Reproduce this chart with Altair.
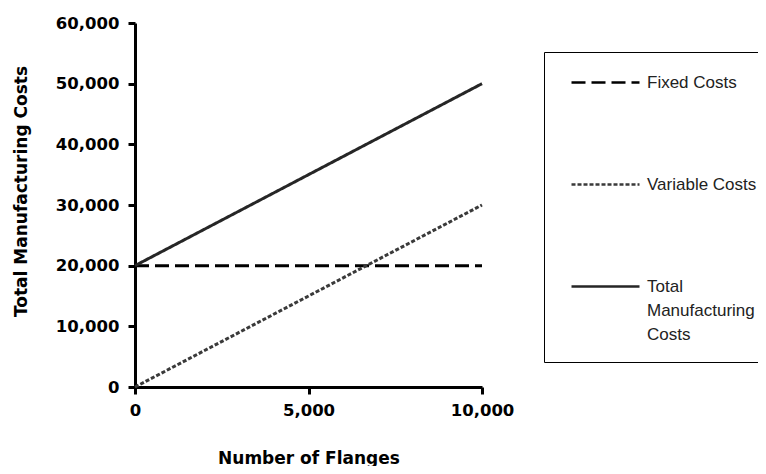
import altair as alt
import pandas as pd

series = ["Fixed Costs", "Variable Costs", "Total Manufacturing Costs"]
flanges = [0, 10000]
fixed_costs = [20000, 20000]
variable_costs = [0, 30000]
total_costs = [20000, 50000]
x_ticks = [0, 5000, 10000]
y_ticks = [0, 10000, 20000, 30000, 40000, 50000, 60000]
line_colors = ["#000000", "#3a3a3a", "#262626"]
line_dashes = [[14, 6], [4, 2], [1, 0]]

rows = []
for name, vals in zip(series, [fixed_costs, variable_costs, total_costs]):
    for x, y in zip(flanges, vals):
        rows.append({"Series": name, "Flanges": x, "Cost": y})
df = pd.DataFrame(rows)

label_expr = ("datum.label == 'Total Manufacturing Costs' ? "
              "['Total', 'Manufacturing', 'Costs', '\u200b'] : "
              "datum.label == 'Variable Costs' ? 'Variable Costs\u2800' : datum.label")

legend = alt.Legend(
    title=None, orient="none", legendX=409, legendY=29,
    strokeColor="black", padding=-5,
    symbolType="stroke", symbolSize=4624, symbolStrokeWidth=2.5, symbolOffset=31,
    labelFont="Liberation Sans", labelFontSize=17, labelColor="#222222",
    labelBaseline="middle", labelOffset=6, labelLimit=400, rowPadding=58,
    labelExpr=label_expr,
)

font = "DejaVu Sans"
common_axis = dict(
    grid=False, format=",d", domainWidth=3, domainColor="black",
    tickWidth=3, tickColor="black", tickSize=7,
    labelFont=font, labelFontWeight="bold", labelFontSize=16.5, labelColor="black",
    titleFont=font, titleFontWeight="bold", titleFontSize=17, titleColor="black",
)

chart = alt.Chart(df).mark_line(strokeWidth=3, strokeCap="butt").encode(
    x=alt.X("Flanges:Q", scale=alt.Scale(domain=[0, 10000], nice=False),
            axis=alt.Axis(values=x_ticks, title="Number of Flanges", labelPadding=8,
                          labelFlush=False, titleY=63, titleBaseline="top", **common_axis)),
    y=alt.Y("Cost:Q", scale=alt.Scale(domain=[0, 60000], nice=False),
            axis=alt.Axis(values=y_ticks, title="Total Manufacturing Costs", labelPadding=9,
                          labelFlush=False, titleX=-114, titleY=168, titleAngle=-90,
                          titleBaseline="middle", titleAlign="center", **common_axis)),
    color=alt.Color("Series:N", scale=alt.Scale(domain=series, range=line_colors), legend=legend),
    strokeDash=alt.StrokeDash("Series:N", scale=alt.Scale(domain=series, range=line_dashes), legend=legend),
    detail="Series:N",
).properties(
    width=347, height=364,
    autosize=alt.AutoSizeParams(type="none"),
    padding={"left": 127, "top": 15, "right": 276, "bottom": 79},
    background="white",
).configure(
    style={"guide-label": {"lineHeight": 24}}
).configure_view(stroke=None)

chart.save("out.html", embed_options={"renderer": "svg", "actions": False})
